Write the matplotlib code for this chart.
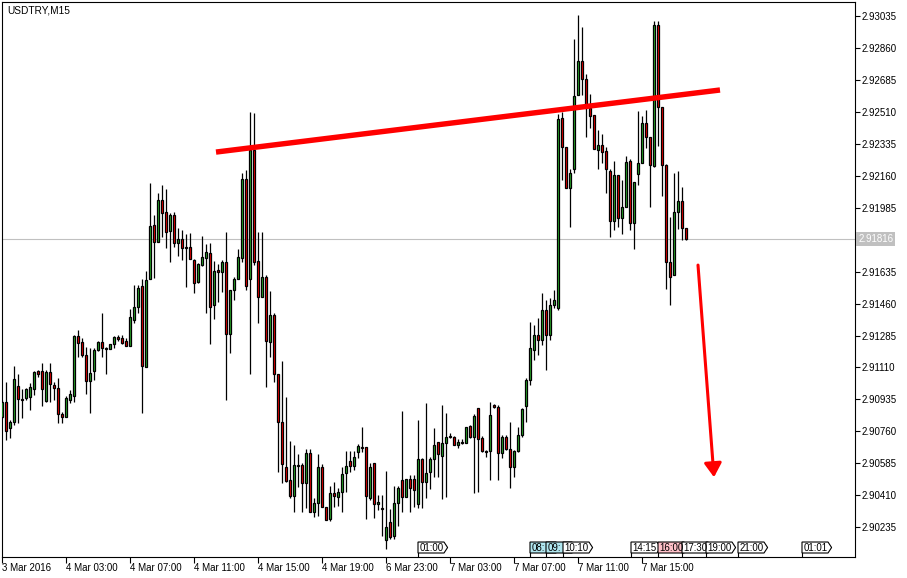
import matplotlib
matplotlib.use('Agg')
import matplotlib.pyplot as plt
from matplotlib.patches import Polygon
from matplotlib.transforms import blended_transform_factory

plt.rcParams['font.family'] = 'Liberation Sans'
plt.rcParams['font.size'] = 7

# USDTRY M15 candles, one per bar
opens = [
    2.90838, 2.90920, 2.90778, 2.90810, 2.91008, 2.90936, 2.90942, 2.90947, 2.90991, 2.91090,
    2.91090, 2.90925, 2.91084, 2.91013, 2.90997, 2.90854, 2.90838, 2.90931, 2.90953, 2.91282,
    2.91249, 2.91177, 2.91035, 2.91090, 2.91205, 2.91249, 2.91216, 2.91210, 2.91238, 2.91276,
    2.91271, 2.91254, 2.91227, 2.91369, 2.91441, 2.91556, 2.91112, 2.91594, 2.91890, 2.91797,
    2.92027, 2.91961, 2.91857, 2.91945, 2.91791, 2.91813, 2.91770, 2.91770, 2.91698, 2.91578,
    2.91671, 2.91709, 2.91737, 2.91452, 2.91643, 2.91632, 2.91687, 2.91293, 2.91534, 2.91594,
    2.91709, 2.92142, 2.91594, 2.92301, 2.91693, 2.91495, 2.91605, 2.91249, 2.91397, 2.91073,
    2.90810, 2.90564, 2.90493, 2.90405, 2.90575, 2.90575, 2.90476, 2.90641, 2.90317, 2.90367,
    2.90564, 2.90345, 2.90279, 2.90421, 2.90400, 2.90427, 2.90531, 2.90597, 2.90569, 2.90646,
    2.90673, 2.90673, 2.90394, 2.90586, 2.90361, 2.90339, 2.90163, 2.90262, 2.90186, 2.90367,
    2.90493, 2.90400, 2.90498, 2.90498, 2.90361, 2.90608, 2.90482, 2.90537, 2.90608, 2.90701,
    2.90624, 2.90695, 2.90734, 2.90728, 2.90684, 2.90701, 2.90695, 2.90789, 2.90728, 2.90887,
    2.90723, 2.90651, 2.90651, 2.90904, 2.90893, 2.90641, 2.90728, 2.90662, 2.90564, 2.90651,
    2.90739, 2.90898, 2.91041, 2.91205, 2.91287, 2.91260, 2.91424, 2.91287, 2.91452, 2.91435,
    2.92476, 2.92317, 2.92093, 2.92197, 2.92602, 2.92789, 2.92690, 2.92531, 2.92493, 2.92301,
    2.92328, 2.92296, 2.92186, 2.91912, 2.92164, 2.91928, 2.91989, 2.92241, 2.91901, 2.92170,
    2.92230, 2.92449, 2.92372, 2.92213, 2.92986, 2.92537, 2.92219, 2.91687, 2.91616, 2.91961,
    2.92022, 2.91874,
]
highs = [
    2.90931, 2.91030, 2.90821, 2.91117, 2.91073, 2.90991, 2.90997, 2.91024, 2.91090, 2.91095,
    2.91134, 2.91095, 2.91134, 2.91030, 2.91051, 2.90865, 2.90953, 2.90986, 2.91287, 2.91315,
    2.91271, 2.91221, 2.91216, 2.91216, 2.91254, 2.91408, 2.91221, 2.91238, 2.91282, 2.91287,
    2.91287, 2.91271, 2.91430, 2.91561, 2.91561, 2.91594, 2.91638, 2.92120, 2.91945, 2.92065,
    2.92109, 2.92087, 2.91956, 2.91961, 2.91874, 2.91863, 2.91841, 2.91846, 2.91704, 2.91682,
    2.91830, 2.91786, 2.91791, 2.91693, 2.91676, 2.91698, 2.91852, 2.91534, 2.91605, 2.91759,
    2.92175, 2.92191, 2.92509, 2.92504, 2.91852, 2.91852, 2.91616, 2.91528, 2.91408, 2.91073,
    2.91145, 2.90947, 2.90706, 2.90684, 2.90635, 2.90586, 2.90662, 2.90662, 2.90394, 2.90635,
    2.90581, 2.90345, 2.90460, 2.90482, 2.90449, 2.90564, 2.90651, 2.90651, 2.90651, 2.90690,
    2.90783, 2.90673, 2.90586, 2.90586, 2.90411, 2.90411, 2.90542, 2.90334, 2.90460, 2.90460,
    2.90871, 2.90498, 2.90520, 2.90520, 2.90821, 2.90613, 2.90915, 2.90619, 2.90778, 2.90701,
    2.90904, 2.90860, 2.90750, 2.90734, 2.90717, 2.90717, 2.90783, 2.90794, 2.90854, 2.90887,
    2.90734, 2.90657, 2.90920, 2.90909, 2.90904, 2.90739, 2.90739, 2.90810, 2.90657, 2.90783,
    2.90887, 2.91051, 2.91358, 2.91342, 2.91380, 2.91517, 2.91479, 2.91490, 2.91534, 2.92498,
    2.92509, 2.92317, 2.92197, 2.92909, 2.93041, 2.92975, 2.92718, 2.92608, 2.92493, 2.92411,
    2.92389, 2.92317, 2.92197, 2.92241, 2.92164, 2.92137, 2.92268, 2.92252, 2.92126, 2.92515,
    2.92487, 2.92520, 2.92372, 2.93007, 2.93007, 2.92537, 2.92224, 2.91934, 2.92175, 2.92186,
    2.92098, 2.91874,
]
lows = [
    2.90832, 2.90711, 2.90723, 2.90794, 2.90805, 2.90832, 2.90931, 2.90876, 2.90958, 2.91057,
    2.90898, 2.90920, 2.90920, 2.90931, 2.90805, 2.90805, 2.90838, 2.90915, 2.90920, 2.91167,
    2.91167, 2.90964, 2.90860, 2.91041, 2.91199, 2.91167, 2.91073, 2.91210, 2.91216, 2.91254,
    2.91238, 2.91227, 2.91227, 2.91353, 2.91408, 2.90860, 2.91112, 2.91594, 2.91600, 2.91797,
    2.91824, 2.91764, 2.91687, 2.91770, 2.91720, 2.91698, 2.91550, 2.91704, 2.91517, 2.91572,
    2.91665, 2.91408, 2.91238, 2.91375, 2.91468, 2.91523, 2.90931, 2.91188, 2.91479, 2.91594,
    2.91687, 2.91534, 2.91073, 2.91671, 2.91353, 2.91495, 2.91002, 2.91167, 2.91030, 2.90537,
    2.90476, 2.90482, 2.90394, 2.90317, 2.90454, 2.90317, 2.90339, 2.90317, 2.90290, 2.90295,
    2.90345, 2.90274, 2.90268, 2.90345, 2.90350, 2.90317, 2.90427, 2.90537, 2.90547, 2.90613,
    2.90646, 2.90279, 2.90383, 2.90284, 2.90328, 2.90186, 2.90114, 2.90169, 2.90169, 2.90241,
    2.90317, 2.90400, 2.90317, 2.90345, 2.90339, 2.90339, 2.90394, 2.90444, 2.90509, 2.90509,
    2.90389, 2.90400, 2.90723, 2.90684, 2.90668, 2.90690, 2.90695, 2.90723, 2.90421, 2.90427,
    2.90646, 2.90619, 2.90493, 2.90887, 2.90493, 2.90613, 2.90657, 2.90449, 2.90509, 2.90646,
    2.90728, 2.90810, 2.91013, 2.91150, 2.91177, 2.91232, 2.91095, 2.91260, 2.91435, 2.91424,
    2.92137, 2.92093, 2.91879, 2.92175, 2.92602, 2.92602, 2.92372, 2.92422, 2.92306, 2.92197,
    2.92230, 2.92065, 2.91824, 2.91863, 2.91879, 2.91841, 2.91989, 2.91863, 2.91759, 2.92109,
    2.92230, 2.92312, 2.91989, 2.92208, 2.92323, 2.92049, 2.91539, 2.91452, 2.91616, 2.91868,
    2.91808, 2.91808,
]
closes = [
    2.90920, 2.90761, 2.90810, 2.91046, 2.90936, 2.90931, 2.90991, 2.91002, 2.91084, 2.91073,
    2.90991, 2.91084, 2.91019, 2.90997, 2.90854, 2.90838, 2.90942, 2.90964, 2.91282, 2.91243,
    2.91177, 2.91035, 2.91079, 2.91205, 2.91249, 2.91216, 2.91213, 2.91238, 2.91276, 2.91265,
    2.91243, 2.91227, 2.91386, 2.91441, 2.91545, 2.91117, 2.91589, 2.91885, 2.91797, 2.92027,
    2.91956, 2.91852, 2.91945, 2.91791, 2.91813, 2.91764, 2.91764, 2.91704, 2.91572, 2.91676,
    2.91715, 2.91742, 2.91441, 2.91638, 2.91632, 2.91687, 2.91293, 2.91534, 2.91594, 2.91715,
    2.92142, 2.91556, 2.92301, 2.91687, 2.91495, 2.91605, 2.91254, 2.91397, 2.91073, 2.90810,
    2.90581, 2.90487, 2.90405, 2.90575, 2.90569, 2.90476, 2.90641, 2.90317, 2.90367, 2.90564,
    2.90345, 2.90274, 2.90421, 2.90405, 2.90427, 2.90526, 2.90569, 2.90569, 2.90619, 2.90679,
    2.90668, 2.90405, 2.90564, 2.90361, 2.90372, 2.90334, 2.90235, 2.90180, 2.90367, 2.90449,
    2.90400, 2.90498, 2.90449, 2.90438, 2.90608, 2.90482, 2.90531, 2.90608, 2.90684, 2.90635,
    2.90695, 2.90728, 2.90731, 2.90684, 2.90701, 2.90698, 2.90783, 2.90728, 2.90843, 2.90717,
    2.90651, 2.90648, 2.90849, 2.90893, 2.90641, 2.90728, 2.90662, 2.90564, 2.90651, 2.90739,
    2.90882, 2.91041, 2.91216, 2.91287, 2.91260, 2.91424, 2.91287, 2.91452, 2.91479, 2.92471,
    2.92317, 2.92093, 2.92175, 2.92597, 2.92789, 2.92690, 2.92531, 2.92487, 2.92306, 2.92328,
    2.92290, 2.92197, 2.91912, 2.92164, 2.91928, 2.91989, 2.92235, 2.91901, 2.92126, 2.92230,
    2.92449, 2.92372, 2.92219, 2.92986, 2.92537, 2.92219, 2.91687, 2.91605, 2.91961, 2.92022,
    2.91874, 2.91816,
]

bid = 2.91816

# time axis labels, one every 16 bars (4 hours)
date_pos = [0, 16, 32, 48, 64, 80, 96, 112, 128, 144, 160]
date_labels = ['3 Mar 2016', '4 Mar 03:00', '4 Mar 07:00', '4 Mar 11:00', '4 Mar 15:00',
               '4 Mar 19:00', '6 Mar 23:00', '7 Mar 03:00', '7 Mar 07:00', '7 Mar 11:00',
               '7 Mar 15:00']

price_ticks = [2.93035, 2.92860, 2.92685, 2.92510, 2.92335, 2.92160, 2.91985,
               2.91635, 2.91460, 2.91285, 2.91110, 2.90935, 2.90760, 2.90585,
               2.90410, 2.90235]

# hand drawn objects
trend_x = [53.5, 179.5]
trend_y = [2.92290, 2.92630]
arrow_from = (174, 2.91671)
arrow_to = (178, 2.90509)

# calendar event markers at the bottom
event_pos = [104, 132, 136, 140.25, 157.25, 164, 170, 176, 184, 200]
event_labels = ['01:00', '08:', '09:', '10:10', '14:15', '16:00', '17:30', '19:00', '21:00', '01:01']
event_colors = ['white', '#b0e6ef', '#b0e6ef', 'white', 'white', '#ffc0c8',
                'white', 'white', 'white', 'white']

green = '#2cb52c'
red = '#ff0000'

fig = plt.figure(figsize=(9.07, 5.78), dpi=100)
ax = fig.add_axes([2 / 907, 1 - 557 / 578, 853 / 907, 555 / 578])

for i in range(len(opens)):
    o, h, l, c = opens[i], highs[i], lows[i], closes[i]
    ax.vlines(i, l, h, color='black', lw=0.9, zorder=2)
    col = green if c >= o else red
    ax.bar(i, abs(c - o), bottom=min(o, c), width=0.55, color=col,
           edgecolor='black', linewidth=0.9, zorder=3)

ax.axhline(bid, color='#c0c0c0', lw=0.8, zorder=1)

ax.plot(trend_x, trend_y, color='red', lw=3.9, solid_capstyle='butt', zorder=5)
ax.annotate('', xy=arrow_to, xytext=arrow_from,
            arrowprops=dict(arrowstyle='-|>,head_length=0.4,head_width=0.25',
                            color='red', lw=2.2, mutation_scale=21,
                            shrinkA=0, shrinkB=0), zorder=5)

# event boxes, x in bars, y in axes fraction
trans = blended_transform_factory(ax.transData, ax.transAxes)
b, t = 0.0072, 0.027
for x0, lab, fc in zip(event_pos, event_labels, event_colors):
    pts = [(x0, b), (x0 + 6.5, b), (x0 + 7.4, (b + t) / 2), (x0 + 6.5, t), (x0, t)]
    ax.add_patch(Polygon(pts, closed=True, fc=fc, ec='black', lw=0.8,
                         transform=trans, zorder=6))
    ax.text(x0 + 0.35, (b + t) / 2, lab, transform=trans, ha='left', va='center',
            fontsize=7, zorder=7)
    ax.plot([x0, x0], [0, b], color='black', lw=0.8, transform=trans, zorder=6)

ax.text(0.006, 0.993, 'USDTRY,M15', transform=ax.transAxes, ha='left', va='top', fontsize=7.3)

ax.set_xlim(0, 213.25)
ax.set_ylim(2.90072, 2.93112)

ax.set_xticks(date_pos)
ax.set_xticklabels(date_labels, ha='left')
ax.yaxis.tick_right()
ax.set_yticks(price_ticks)
ax.set_yticklabels(['%.5f' % p for p in price_ticks])
ax.tick_params(axis='x', direction='out', length=4, pad=0, width=0.8)
ax.tick_params(axis='y', direction='out', length=3.5, pad=1.5, width=0.8)
for s in ax.spines.values():
    s.set_linewidth(0.8)

ytr = blended_transform_factory(ax.transAxes, ax.transData)
ax.text(1.004, bid, '%.5f' % bid, transform=ytr, ha='left', va='center', color='white',
        fontsize=7, bbox=dict(boxstyle='square,pad=0.2', fc='#c0c0c0', ec='none'))

fig.savefig('out.png', dpi=100)
